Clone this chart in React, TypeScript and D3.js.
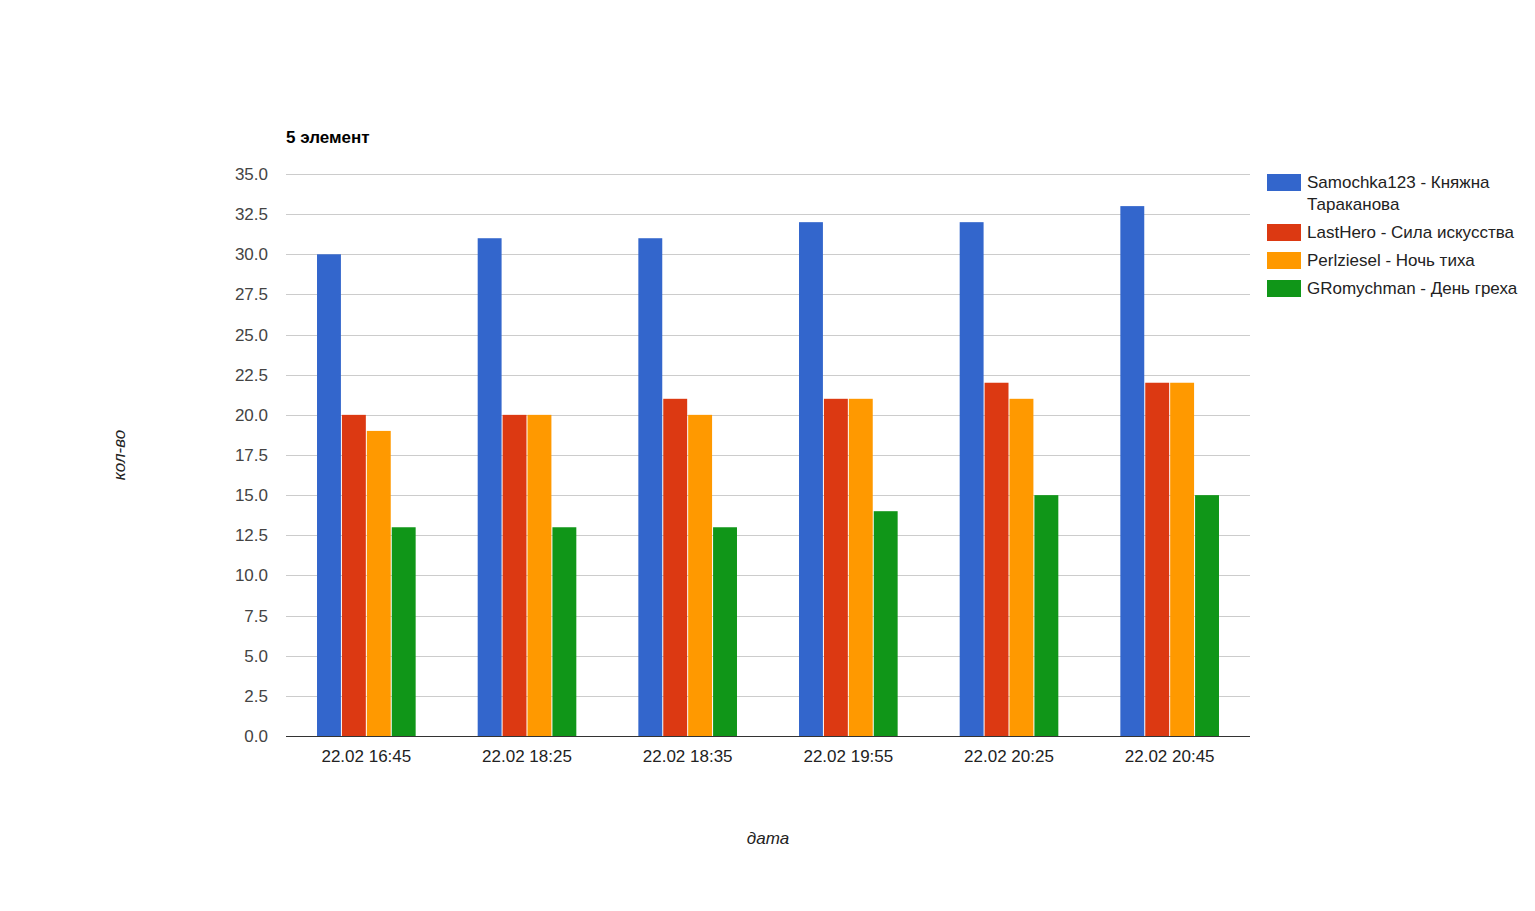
import React, { useEffect, useRef } from "react";
import * as d3 from "d3";

// chart data
const dates = ["22.02 16:45", "22.02 18:25", "22.02 18:35", "22.02 19:55", "22.02 20:25", "22.02 20:45"];
const seriesNames = [
  ["Samochka123 - Княжна", "Тараканова"],
  ["LastHero - Сила искусства"],
  ["Perlziesel - Ночь тиха"],
  ["GRomychman - День греха"],
];
const seriesColors = ["#3366cc", "#dc3912", "#ff9900", "#109618"];
const samochka = [30, 31, 31, 32, 32, 33];
const lastHero = [20, 20, 21, 21, 22, 22];
const perlziesel = [19, 20, 20, 21, 21, 22];
const gromychman = [13, 13, 13, 14, 15, 15];
const yTicks = [0, 2.5, 5, 7.5, 10, 12.5, 15, 17.5, 20, 22.5, 25, 27.5, 30, 32.5, 35];

const font = "'Liberation Sans', Arial, sans-serif";
const fs = 17;

export default function App() {
  const svgRef = useRef<SVGSVGElement>(null);

  useEffect(() => {
    const width = 1535;
    const height = 911;
    const margin = { top: 174, right: 285, bottom: 175, left: 286 };
    const chartWidth = width - margin.left - margin.right;
    const chartHeight = height - margin.top - margin.bottom;

    const svg = d3.select(svgRef.current);
    svg.selectAll("*").remove();
    svg.attr("viewBox", `0 0 ${width} ${height}`);

    const values = [samochka, lastHero, perlziesel, gromychman];

    const x0 = d3.scaleBand().domain(dates).range([0, chartWidth]);
    const x1 = d3
      .scaleBand()
      .domain(d3.range(values.length).map(String))
      .range([0, x0.bandwidth()])
      .paddingOuter(1.225)
      .paddingInner(0);
    const y = d3.scaleLinear().domain([0, 35]).range([chartHeight, 0]);

    const g = svg.append("g").attr("transform", `translate(${margin.left},${margin.top})`);

    // gridlines
    g.selectAll("line.grid")
      .data(yTicks)
      .join("line")
      .attr("x1", 0)
      .attr("x2", chartWidth)
      .attr("y1", (d) => Math.round(y(d)) + 0.5)
      .attr("y2", (d) => Math.round(y(d)) + 0.5)
      .attr("stroke", "#cccccc")
      .attr("stroke-width", 1);

    // y tick labels
    g.selectAll("text.ytick")
      .data(yTicks)
      .join("text")
      .attr("x", -18)
      .attr("y", (d) => y(d) + 6)
      .attr("text-anchor", "end")
      .attr("font-family", font)
      .attr("font-size", fs)
      .attr("fill", "#444444")
      .text((d) => d.toFixed(1));

    // bars
    values.forEach((vals, si) => {
      g.selectAll(`rect.s${si}`)
        .data(vals)
        .join("rect")
        .attr("x", (_, i) => x0(dates[i])! + x1(String(si))! + 0.5)
        .attr("y", (d) => y(d))
        .attr("width", x1.bandwidth() - 1)
        .attr("height", (d) => chartHeight - y(d))
        .attr("fill", seriesColors[si]);
    });

    // baseline
    g.append("line")
      .attr("x1", 0)
      .attr("x2", chartWidth)
      .attr("y1", chartHeight + 0.5)
      .attr("y2", chartHeight + 0.5)
      .attr("stroke", "#333333")
      .attr("stroke-width", 1);

    // x labels
    g.selectAll("text.xtick")
      .data(dates)
      .join("text")
      .attr("x", (d) => x0(d)! + x0.bandwidth() / 2)
      .attr("y", chartHeight + 26)
      .attr("text-anchor", "middle")
      .attr("font-family", font)
      .attr("font-size", fs)
      .attr("fill", "#222222")
      .text((d) => d);

    // title
    svg
      .append("text")
      .attr("x", margin.left)
      .attr("y", 143)
      .attr("font-family", font)
      .attr("font-size", fs)
      .attr("font-weight", "bold")
      .attr("fill", "#000000")
      .text("5 элемент");

    // axis titles
    svg
      .append("text")
      .attr("x", 768)
      .attr("y", 844)
      .attr("text-anchor", "middle")
      .attr("font-family", font)
      .attr("font-size", fs)
      .attr("font-style", "italic")
      .attr("fill", "#222222")
      .text("дата");

    svg
      .append("text")
      .attr("transform", "translate(125,455) rotate(-90)")
      .attr("text-anchor", "middle")
      .attr("font-family", font)
      .attr("font-size", fs)
      .attr("font-style", "italic")
      .attr("fill", "#222222")
      .text("кол-во");

    // legend
    const legendTops = [174, 224, 252, 280];
    seriesNames.forEach((lines, i) => {
      const top = legendTops[i];
      svg
        .append("rect")
        .attr("x", 1267)
        .attr("y", top)
        .attr("width", 34)
        .attr("height", 17)
        .attr("fill", seriesColors[i]);
      lines.forEach((t, li) => {
        svg
          .append("text")
          .attr("x", 1307)
          .attr("y", top + 14 + li * 22)
          .attr("font-family", font)
          .attr("font-size", fs)
          .attr("fill", "#222222")
          .text(t);
      });
    });
  }, []);

  return <svg ref={svgRef} width={1535} height={911} style={{ display: "block", position: "absolute", left: 0, top: 0 }}></svg>;
}
